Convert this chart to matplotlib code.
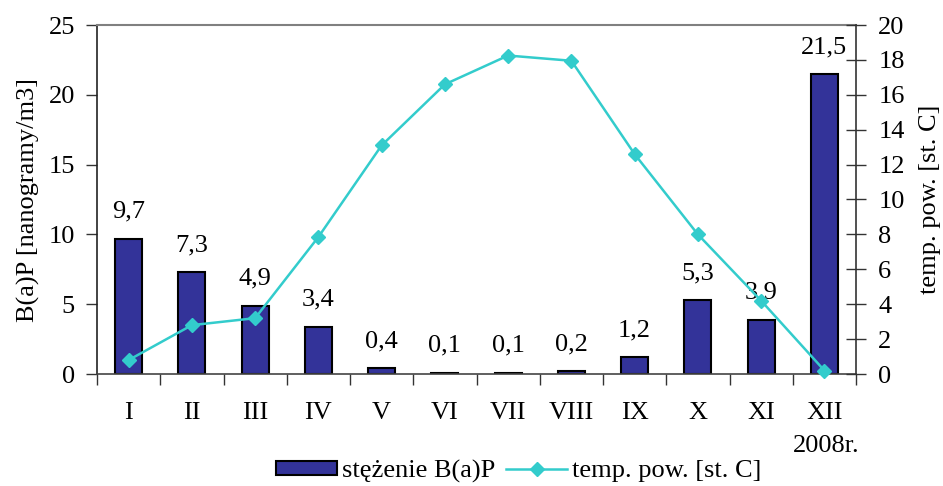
import matplotlib
matplotlib.use("Agg")
import matplotlib.pyplot as plt
from matplotlib.lines import Line2D
from matplotlib.patches import Patch

months = ["I", "II", "III", "IV", "V", "VI", "VII", "VIII", "IX", "X", "XI", "XII"]
bap = [9.7, 7.3, 4.9, 3.4, 0.4, 0.1, 0.1, 0.2, 1.2, 5.3, 3.9, 21.5]
bap_labels = ["9,7", "7,3", "4,9", "3,4", "0,4", "0,1", "0,1", "0,2", "1,2", "5,3", "3,9", "21,5"]
temp = [0.8, 2.8, 3.2, 7.85, 13.1, 16.6, 18.25, 17.95, 12.6, 8.0, 4.2, 0.2]

plt.rcParams['font.family'] = ['Liberation Serif', 'DejaVu Serif']
FS = 19
BAR_C = "#333399"
LINE_C = "#33CCCC"

fig = plt.figure(figsize=(9.43, 4.86), dpi=100)
ax = fig.add_axes([97/943, 1 - 374/486, (856-97)/943, (374-25)/486])
x = list(range(len(months)))
ax.bar(x, bap, width=0.43, color=BAR_C, edgecolor="black", linewidth=1.5, zorder=2)
for xi, v, lab in zip(x, bap, bap_labels):
    ax.annotate(lab, (xi, v), xytext=(0, 15), textcoords="offset points",
                ha="center", va="baseline", fontsize=FS, zorder=1)
ax.set_xlim(-0.5, 11.5)
ax.set_ylim(0, 25)
ax.set_yticks([0, 5, 10, 15, 20, 25])
ax.set_xticks(x)
ax.set_xticklabels(months, fontsize=FS)
ax.set_xticks([i + 0.5 for i in range(-1, 12)], minor=True)
ax.tick_params(axis='x', which='major', length=0, pad=20)
ax.tick_params(axis='x', which='minor', length=8, width=1, color="#333333", direction='out')
ax.tick_params(axis='y', labelsize=FS, length=8, width=1, direction='out', pad=8, color="#333333")
ax.set_ylabel("B(a)P [nanogramy/m3]", fontsize=FS, labelpad=6)
ax.spines['top'].set_color("#808080")
ax.spines['top'].set_linewidth(1.5)
ax.spines['left'].set_color("#222222")
ax.spines['left'].set_linewidth(1.2)
ax.spines['bottom'].set_color("#444444")
ax.spines['bottom'].set_linewidth(1.2)
ax.spines['right'].set_visible(False)

ax2 = ax.twinx()
ax2.plot(x, temp, color=LINE_C, linewidth=1.8, marker="D", markersize=7,
         markerfacecolor=LINE_C, markeredgecolor=LINE_C, clip_on=False, zorder=5)
ax2.set_ylim(0, 20)
ax2.set_yticks(range(0, 21, 2))
ax2.tick_params(axis='y', labelsize=FS, length=14, width=1, direction='inout', pad=9, color="#333333")
ax2.set_ylabel("temp. pow. [st. C]", fontsize=FS, labelpad=10)
for s in ['top', 'left', 'bottom']:
    ax2.spines[s].set_visible(False)
ax2.spines['right'].set_color("#333333")
ax2.spines['right'].set_linewidth(1.2)

fig.text(826/943, 1 - 446/486, "2008r.", fontsize=FS, ha="center", va="center")

handles = [Patch(facecolor=BAR_C, edgecolor="black", linewidth=1.5),
           Line2D([0], [0], color=LINE_C, linewidth=1.8, marker="D", markersize=7)]
fig.legend(handles, ["stężenie B(a)P", "temp. pow. [st. C]"], loc="center",
           bbox_to_anchor=(519/943, 1 - 471/486), ncol=2, frameon=False, fontsize=FS,
           handlelength=2.3, handleheight=0.45, handletextpad=0.2, columnspacing=0.4,
           borderpad=0.1)

fig.savefig("out.png", dpi=100)
